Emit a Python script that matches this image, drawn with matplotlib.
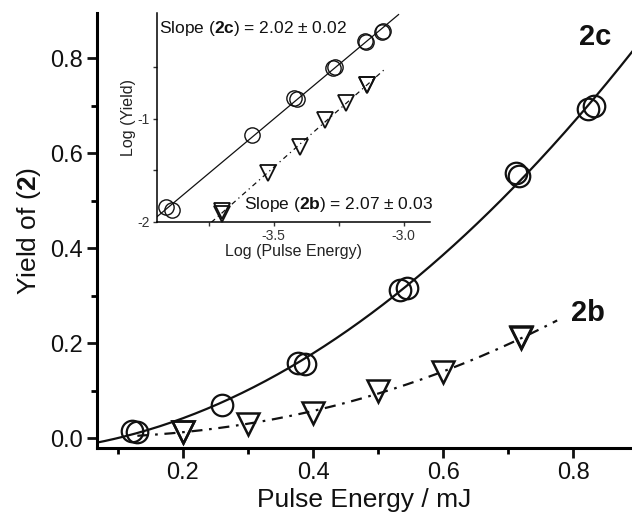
import matplotlib

matplotlib.use("Agg")

import matplotlib.pyplot as plt
import numpy as np
from matplotlib.ticker import FixedLocator

plt.rcParams.update(
    {
        "font.family": ["Liberation Sans", "DejaVu Sans"],
        "mathtext.fontset": "custom",
        "mathtext.rm": "Liberation Sans",
        "mathtext.bf": "Liberation Sans:bold",
        "axes.unicode_minus": False,
    }
)

INK = "#111111"

# 2c data (pulse energy in mJ, yield)
energy_2c = [0.122, 0.129, 0.26, 0.377, 0.388, 0.534, 0.545, 0.711, 0.716, 0.823, 0.831]
yield_2c = [0.014, 0.013, 0.069, 0.158, 0.155, 0.312, 0.316, 0.558, 0.551, 0.693, 0.700]

# 2b data
energy_2b = [0.2, 0.2, 0.3, 0.4, 0.5, 0.6, 0.72, 0.72]
yield_2b = [0.012, 0.0128, 0.030, 0.053, 0.098, 0.140, 0.210, 0.213]

x_ticks = [0.2, 0.4, 0.6, 0.8]
y_ticks = [0.0, 0.2, 0.4, 0.6, 0.8]
inset_x_ticks = [-3.5, -3.0]
inset_y_ticks = [-2, -1]

e2c = np.array(energy_2c)
y2c = np.array(yield_2c)
e2b = np.array(energy_2b)
y2b = np.array(yield_2b)

# fits
quad_2c = np.polyfit(e2c, y2c, 2)
log_fit_2c = np.polyfit(np.log10(e2c * 1e-3), np.log10(y2c), 1)
log_fit_2b = np.polyfit(np.log10(e2b * 1e-3), np.log10(y2b), 1)

fig = plt.figure(figsize=(6.32, 5.17), dpi=100)
ax = fig.add_axes([0.1535, 0.1335, 0.8465, 0.841])

xx = np.linspace(0.05, 0.95, 300)
ax.plot(xx, np.polyval(quad_2c, xx), color=INK, lw=1.6, zorder=2)
xb = np.linspace(0.13, 0.775, 200)
yb = 10 ** np.polyval(log_fit_2b, np.log10(xb * 1e-3))
ax.plot(xb, yb, color=INK, lw=1.6, ls=(0, (5, 3, 1.2, 3)), zorder=2)

ax.plot(e2c, y2c, "o", ms=15.5, mfc="none", mec=INK, mew=1.6, zorder=3)
ax.plot(e2b, y2b, "v", ms=16, mfc="none", mec=INK, mew=1.8, zorder=3)

ax.set_xlim(0.068, 0.89)
ax.set_ylim(-0.021, 0.895)
ax.set_xticks(x_ticks)
ax.set_yticks(y_ticks)
ax.xaxis.set_minor_locator(FixedLocator([0.1, 0.3, 0.5, 0.7]))
ax.yaxis.set_minor_locator(FixedLocator([0.1, 0.3, 0.5, 0.7]))
ax.set_xticklabels([f"{v:.1f}" for v in x_ticks])
ax.set_yticklabels([f"{v:.1f}" for v in y_ticks])
for side in ("top", "right"):
    ax.spines[side].set_visible(False)
for side in ("left", "bottom"):
    ax.spines[side].set_linewidth(2.2)
ax.tick_params(which="major", direction="out", length=7, width=2.0, labelsize=17, pad=3, colors=INK)
ax.tick_params(which="minor", direction="out", length=4, width=2.0)
ax.set_xlabel("Pulse Energy / mJ", fontsize=19, labelpad=3, color=INK)
ax.set_ylabel(r"Yield of ($\mathbf{2}$)", fontsize=19, labelpad=5, color=INK)

ax.text(0.834, 0.844, "2c", fontsize=21, fontweight="bold", ha="center", va="center", color=INK)
ax.text(0.823, 0.263, "2b", fontsize=21, fontweight="bold", ha="center", va="center", color=INK)

# inset: log-log
ins = fig.add_axes([0.248, 0.5706, 0.432, 0.404])
lx = np.log10(e2c * 1e-3)
ly = np.log10(y2c)
lxb = np.log10(e2b * 1e-3)
lyb = np.log10(y2b)
gx = np.linspace(-4.0, -3.02, 50)
ins.plot(gx, np.polyval(log_fit_2c, gx), color=INK, lw=0.9, zorder=2)
gb = np.linspace(-3.78, -3.07, 50)
ins.plot(gb, np.polyval(log_fit_2b, gb), color=INK, lw=0.9, ls=(0, (4, 3, 1, 3)), zorder=2)
ins.plot(lx, ly, "o", ms=11, mfc="none", mec=INK, mew=1.0, zorder=3)
ins.plot(lxb, lyb, "v", ms=11, mfc="none", mec=INK, mew=1.3, zorder=3)

ins.set_xlim(-3.95, -2.9)
ins.set_ylim(-2.0, 0.02)
ins.set_xticks(inset_x_ticks)
ins.set_yticks(inset_y_ticks)
ins.set_xticklabels(["-3.5", "-3.0"])
ins.set_yticklabels(["-2", "-1"])
ins.xaxis.set_minor_locator(FixedLocator([-3.75, -3.25]))
ins.yaxis.set_minor_locator(FixedLocator([-1.5, -0.5]))
ins.patch.set_alpha(0)
for side in ("top", "right"):
    ins.spines[side].set_visible(False)
for side in ("left", "bottom"):
    ins.spines[side].set_linewidth(1.1)
ins.tick_params(which="both", direction="out", length=3, width=1.0, labelsize=10, pad=2, colors="#333333")
ins.set_xlabel("Log (Pulse Energy)", fontsize=11.5, labelpad=1, color="#222222")
ins.set_ylabel("Log (Yield)", fontsize=11.5, labelpad=1, color="#222222")

ins.text(-3.94, -0.13, r"Slope ($\mathbf{2c}$) = 2.02 ± 0.02", fontsize=12.5, ha="left", va="center", color=INK)
ins.text(-3.615, -1.83, r"Slope ($\mathbf{2b}$) = 2.07 ± 0.03", fontsize=12.5, ha="left", va="center", color=INK)

fig.savefig("out.png", dpi=100, facecolor="white")
